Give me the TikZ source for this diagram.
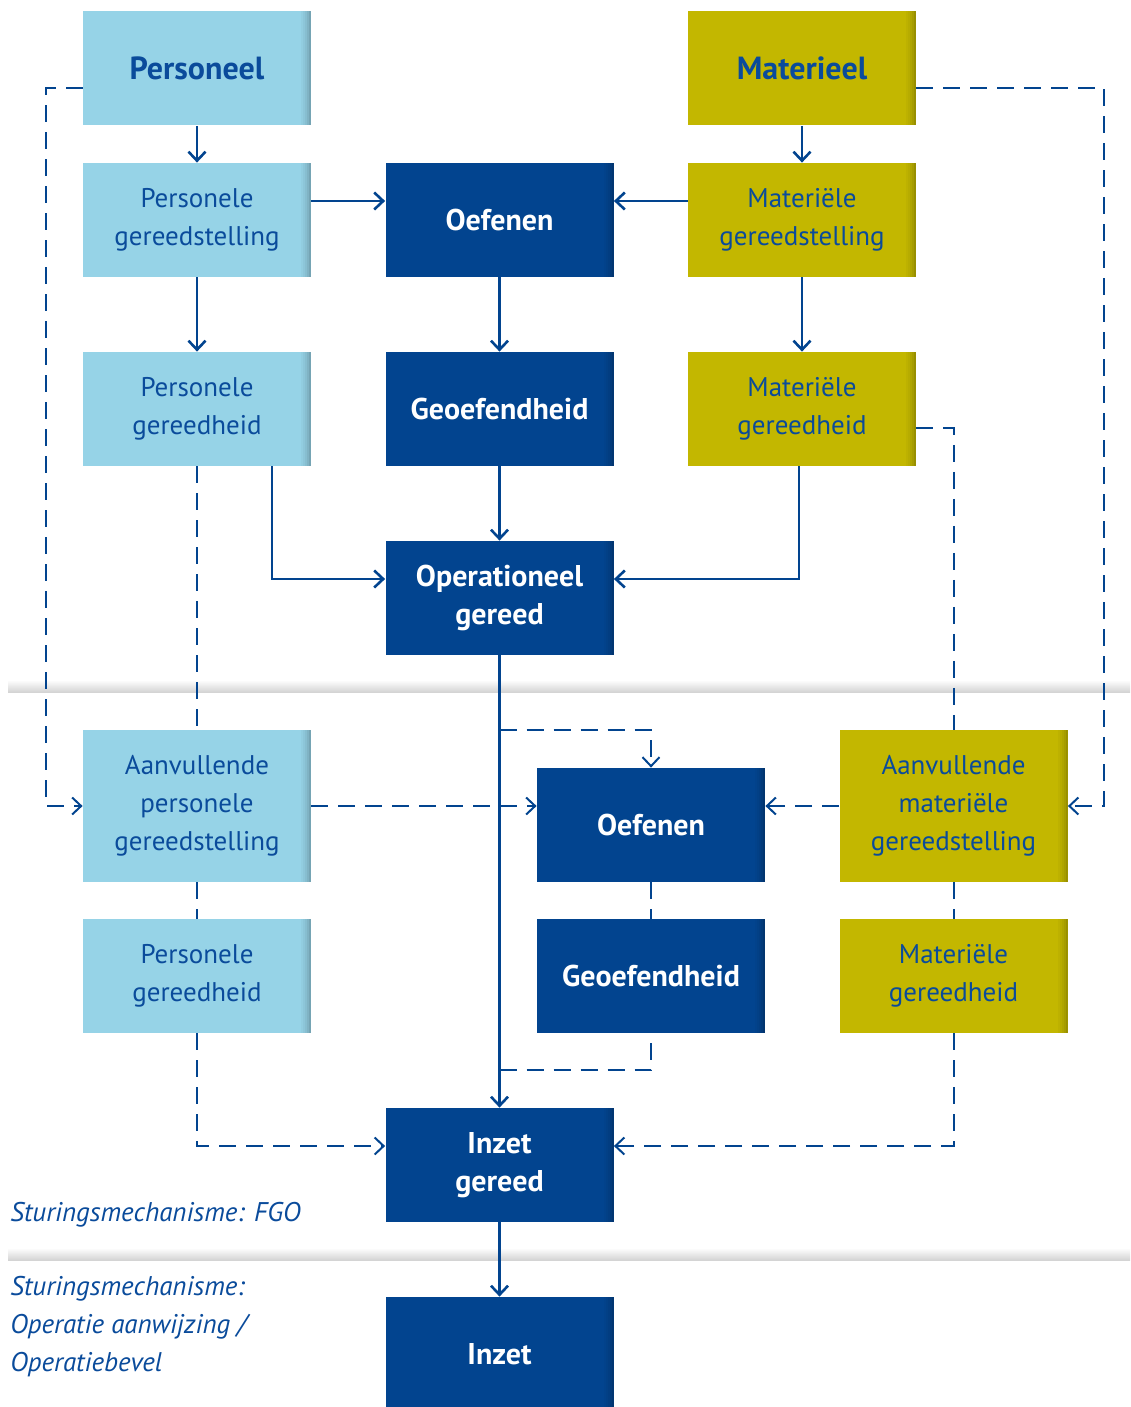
\documentclass[tikz,border=0pt]{standalone}
\usepackage{fontspec}
\setmainfont{PT Sans}
\usepackage{tikz}
\usetikzlibrary{arrows.meta}
\definecolor{donkerblauw}{HTML}{02448F}
\definecolor{lichtblauw}{HTML}{96D3E7}
\definecolor{olijf}{HTML}{C3B700}
\definecolor{tekstblauw}{HTML}{0A4B9B}
\tikzset{schaduw/.style={path picture={
    \foreach \d/\k in {5/97,4/94,3/90,2/85,1/78}
        \fill [#1!\k!black] ([xshift=-\d pt]path picture bounding box.north east) rectangle (path picture bounding box.south east);}}}
\begin{document}
\begin{tikzpicture}[x=0.5pt,y=0.5pt]
    \tikzstyle{every node}+=[inner sep=0pt]
    \tikzstyle{blok}=[minimum width=114pt, minimum height=57pt, align=center, font=\fontsize{13.5}{19}\selectfont]
    \tikzstyle{pers}=[blok, fill=lichtblauw, text=tekstblauw, schaduw=lichtblauw]
    \tikzstyle{mat}=[blok, fill=olijf, text=tekstblauw, schaduw=olijf]
    \tikzstyle{oef}=[blok, fill=donkerblauw, text=white, font=\fontsize{15}{19}\selectfont\bfseries, schaduw=donkerblauw]
    \tikzstyle{pijl}=[donkerblauw, line width=1.3pt, -{Straight Barb[length=4.5pt,width=8.5pt]}]
    \tikzstyle{stippel}=[donkerblauw, line width=1pt, dash pattern=on 8.5pt off 5pt]
    \tikzstyle{uitleg}=[text=tekstblauw, font=\fontsize{13.5}{19}\selectfont\itshape, align=left]
    \useasboundingbox (0,0) rectangle (1130,-1407);
    \shade [top color=white, bottom color=black!17] (8,-680) rectangle (1130,-692);
    \shade [top color=white, bottom color=black!17] (8,-1248) rectangle (1130,-1260);
    \node [pers, font=\fontsize{16}{19}\selectfont\bfseries] (personeel) at (197,-68.5) {Personeel};
    \node [mat, font=\fontsize{16}{19}\selectfont\bfseries] (materieel) at (802,-68.5) {Materieel};
    \node [pers] (persgs) at (197,-220) {Personele\\gereedstelling};
    \node [oef] (oefenen) at (499.5,-220) {Oefenen};
    \node [mat] (matgs) at (802,-220) {Materiële\\gereedstelling};
    \node [pers] (persgh) at (197,-409) {Personele\\gereedheid};
    \node [oef] (geoefend) at (499.5,-409) {Geoefendheid};
    \node [mat] (matgh) at (802,-409) {Materiële\\gereedheid};
    \node [oef] (opgereed) at (499.5,-598) {Operationeel\\gereed};
    \node [pers, minimum height=76pt] (aanvpers) at (197,-806) {Aanvullende\\personele\\gereedstelling};
    \node [oef] (oefenen2) at (651,-825) {Oefenen};
    \node [mat, minimum height=76pt] (aanvmat) at (953.5,-806) {Aanvullende\\materiële\\gereedstelling};
    \node [pers] (persgh2) at (197,-976) {Personele\\gereedheid};
    \node [oef] (geoefend2) at (651,-976) {Geoefendheid};
    \node [mat] (matgh2) at (953.5,-976) {Materiële\\gereedheid};
    \node [oef] (inzetgereed) at (499.5,-1165) {Inzet\\gereed};
    \node [oef] (inzet) at (499.5,-1354) {Inzet};
    \node [uitleg, anchor=base west] (fgo) at (10,-1221) {Sturingsmechanisme: FGO};
    \node [uitleg, anchor=base west] (bevel) at (10,-1371) {Sturingsmechanisme:\\Operatie aanwijzing /\\Operatiebevel};
    \coordinate (links) at (46,-806);
    \coordinate (rechts) at (1104,-806);
    \coordinate (samen) at (499.5,-1070);
    \draw [pijl] (personeel) -- (persgs);
    \draw [pijl] (materieel) -- (matgs);
    \draw [pijl] ([yshift=9.5pt]persgs.east) -- ([yshift=9.5pt]oefenen.west);
    \draw [pijl] ([yshift=9.5pt]matgs.west) -- ([yshift=9.5pt]oefenen.east);
    \draw [pijl] (persgs) -- (persgh);
    \draw [pijl] (oefenen) -- (geoefend);
    \draw [pijl] (matgs) -- (matgh);
    \draw [pijl] (geoefend) -- (opgereed);
    \draw [pijl] ([xshift=37.5pt]persgh.south) |- ([yshift=9.5pt]opgereed.west);
    \draw [pijl] ([xshift=-1.5pt]matgh.south) |- ([yshift=9.5pt]opgereed.east);
    \draw [pijl] (opgereed) -- (inzetgereed);
    \draw [pijl] (inzetgereed) -- (inzet);
    \draw [stippel, -{Straight Barb[length=4.5pt,width=8.5pt]}] ([yshift=-9.75pt]personeel.west) -| (links) -- (aanvpers.west);
    \draw [stippel, -{Straight Barb[length=4.5pt,width=8.5pt]}] ([yshift=-9.75pt]materieel.east) -| (rechts) -- (aanvmat.east);
    \draw [stippel] (persgh) -- (aanvpers);
    \draw [stippel] ([yshift=-9.5pt]matgh.east) -| (aanvmat.north);
    \draw [stippel, -{Straight Barb[length=4.5pt,width=8.5pt]}] (opgereed.south |- aanvpers.north) -| (oefenen2.north);
    \draw [stippel, -{Straight Barb[length=4.5pt,width=8.5pt]}] (aanvpers.east) -- (aanvpers.east -| oefenen2.west);
    \draw [stippel, -{Straight Barb[length=4.5pt,width=8.5pt]}] (aanvmat.west) -- (aanvmat.west -| oefenen2.east);
    \draw [stippel] (aanvpers) -- (persgh2);
    \draw [stippel] (oefenen2) -- (geoefend2);
    \draw [stippel] (aanvmat) -- (matgh2);
    \draw [stippel] (samen) -| (geoefend2.south);
    \draw [stippel, -{Straight Barb[length=4.5pt,width=8.5pt]}] (persgh2.south) |- ([yshift=9.5pt]inzetgereed.west);
    \draw [stippel, -{Straight Barb[length=4.5pt,width=8.5pt]}] (matgh2.south) |- ([yshift=9.5pt]inzetgereed.east);
\end{tikzpicture}
\end{document}
